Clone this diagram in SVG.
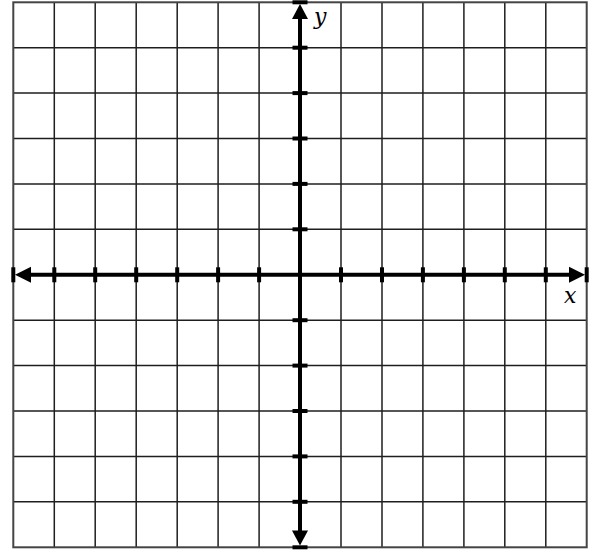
<svg xmlns="http://www.w3.org/2000/svg" width="599" height="550" viewBox="0 0 599 550">
<style>
.grid line{stroke:#1e1e1e;stroke-width:1.5}
.border{fill:none;stroke:#444;stroke-width:2}
.axis{stroke:#000;stroke-width:4}
.tick{stroke:#000;stroke-width:4}
.head{fill:#000}
.lbl{font-family:"DejaVu Serif",serif;font-style:italic;font-size:22px;fill:#000}
</style>
<rect width="599" height="550" fill="#fff"/>
<g id="grid" class="grid">
<line x1="54.3" y1="2.3" x2="54.3" y2="547.3"/>
<line x1="95.2" y1="2.3" x2="95.2" y2="547.3"/>
<line x1="136.2" y1="2.3" x2="136.2" y2="547.3"/>
<line x1="177.2" y1="2.3" x2="177.2" y2="547.3"/>
<line x1="218.1" y1="2.3" x2="218.1" y2="547.3"/>
<line x1="259.1" y1="2.3" x2="259.1" y2="547.3"/>
<line x1="341" y1="2.3" x2="341" y2="547.3"/>
<line x1="382" y1="2.3" x2="382" y2="547.3"/>
<line x1="422.9" y1="2.3" x2="422.9" y2="547.3"/>
<line x1="463.9" y1="2.3" x2="463.9" y2="547.3"/>
<line x1="504.8" y1="2.3" x2="504.8" y2="547.3"/>
<line x1="545.8" y1="2.3" x2="545.8" y2="547.3"/>
<line x1="13.3" y1="47.7" x2="586.7" y2="47.7"/>
<line x1="13.3" y1="93.1" x2="586.7" y2="93.1"/>
<line x1="13.3" y1="138.5" x2="586.7" y2="138.5"/>
<line x1="13.3" y1="183.9" x2="586.7" y2="183.9"/>
<line x1="13.3" y1="229.3" x2="586.7" y2="229.3"/>
<line x1="13.3" y1="320.2" x2="586.7" y2="320.2"/>
<line x1="13.3" y1="365.6" x2="586.7" y2="365.6"/>
<line x1="13.3" y1="411" x2="586.7" y2="411"/>
<line x1="13.3" y1="456.4" x2="586.7" y2="456.4"/>
<line x1="13.3" y1="501.8" x2="586.7" y2="501.8"/>
<rect class="border" x="13.3" y="2.3" width="573.4" height="545"/>
</g>
<g id="x-axis">
<line class="axis" x1="28" y1="274.8" x2="572" y2="274.8"/>
<polygon class="head" points="15,274.8 31,266.8 31,282.8"/>
<polygon class="head" points="585,274.8 569,266.8 569,282.8"/>
<g class="tick">
<line x1="13.3" y1="267.3" x2="13.3" y2="282.3"/>
<line x1="54.3" y1="267.3" x2="54.3" y2="282.3"/>
<line x1="95.2" y1="267.3" x2="95.2" y2="282.3"/>
<line x1="136.2" y1="267.3" x2="136.2" y2="282.3"/>
<line x1="177.2" y1="267.3" x2="177.2" y2="282.3"/>
<line x1="218.1" y1="267.3" x2="218.1" y2="282.3"/>
<line x1="259.1" y1="267.3" x2="259.1" y2="282.3"/>
<line x1="341" y1="267.3" x2="341" y2="282.3"/>
<line x1="382" y1="267.3" x2="382" y2="282.3"/>
<line x1="422.9" y1="267.3" x2="422.9" y2="282.3"/>
<line x1="463.9" y1="267.3" x2="463.9" y2="282.3"/>
<line x1="504.8" y1="267.3" x2="504.8" y2="282.3"/>
<line x1="545.8" y1="267.3" x2="545.8" y2="282.3"/>
<line x1="586.7" y1="267.3" x2="586.7" y2="282.3"/>
</g>
<text class="lbl" x="564" y="303">x</text>
</g>
<g id="y-axis">
<line class="axis" x1="300" y1="16" x2="300" y2="533"/>
<polygon class="head" points="300,4 292,19 308,19"/>
<polygon class="head" points="300,545.5 292,530.5 308,530.5"/>
<g class="tick">
<line x1="292.5" y1="2.3" x2="307.5" y2="2.3"/>
<line x1="292.5" y1="47.7" x2="307.5" y2="47.7"/>
<line x1="292.5" y1="93.1" x2="307.5" y2="93.1"/>
<line x1="292.5" y1="138.5" x2="307.5" y2="138.5"/>
<line x1="292.5" y1="183.9" x2="307.5" y2="183.9"/>
<line x1="292.5" y1="229.3" x2="307.5" y2="229.3"/>
<line x1="292.5" y1="320.2" x2="307.5" y2="320.2"/>
<line x1="292.5" y1="365.6" x2="307.5" y2="365.6"/>
<line x1="292.5" y1="411" x2="307.5" y2="411"/>
<line x1="292.5" y1="456.4" x2="307.5" y2="456.4"/>
<line x1="292.5" y1="501.8" x2="307.5" y2="501.8"/>
<line x1="292.5" y1="547.3" x2="307.5" y2="547.3"/>
</g>
<text class="lbl" x="314" y="24">y</text>
</g>
</svg>
